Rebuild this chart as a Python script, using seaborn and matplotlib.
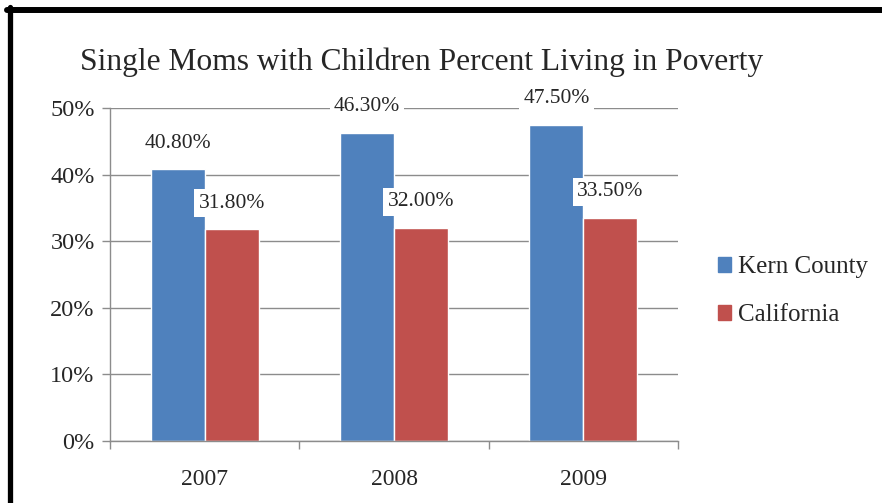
import matplotlib
matplotlib.use("Agg")
import matplotlib.pyplot as plt
import seaborn as sns
import pandas as pd
from matplotlib.lines import Line2D
from matplotlib.ticker import PercentFormatter

years = ["2007", "2008", "2009"]
kern = [0.408, 0.463, 0.475]
california = [0.318, 0.320, 0.335]
series = ["Kern County", "California"]
colors = ["#4F81BD", "#C0504D"]
title = "Single Moms with Children Percent Living in Poverty"

df = pd.DataFrame({
    "Year": years * 2,
    "Value": kern + california,
    "Series": [series[0]] * 3 + [series[1]] * 3,
})

sns.set_style("white")
plt.rcParams["font.family"] = ["Liberation Serif", "DejaVu Serif"]

fig = plt.figure(figsize=(8.82, 5.03), dpi=100)
ax = fig.add_axes([110 / 882, 1 - 441 / 503, (678 - 110) / 882, (441 - 108) / 503])

sns.barplot(data=df, x="Year", y="Value", hue="Series", palette=colors,
            width=0.57, gap=0, saturation=1, ax=ax, zorder=2, legend=True)

ax.set_ylim(0, 0.5)
ax.set_xlim(-0.5, 2.5)
ax.yaxis.set_major_formatter(PercentFormatter(1.0, decimals=0))
ax.set_yticks([0, 0.1, 0.2, 0.3, 0.4, 0.5])
ax.yaxis.grid(True, color="#8C8C8C", linewidth=1, zorder=0)
ax.set_axisbelow(True)
ax.set_xlabel("")
ax.set_ylabel("")
for s in ["top", "right"]:
    ax.spines[s].set_visible(False)
for s in ["left", "bottom"]:
    ax.spines[s].set_color("#8C8C8C")
    ax.spines[s].set_linewidth(1)
ax.tick_params(axis="y", which="major", length=6, color="#8C8C8C", width=1,
               labelsize=17.5, pad=5, left=True)
ax.tick_params(axis="x", which="major", length=0, labelsize=17, pad=20)
ax.set_xticks([-0.5, 0.5, 1.5, 2.5], minor=True)
ax.tick_params(axis="x", which="minor", length=6, color="#8C8C8C", width=1, bottom=True)

for cont in ax.containers:
    for bar in cont:
        h = bar.get_height()
        ax.annotate(f"{h * 100:.2f}%", (bar.get_x() + bar.get_width() / 2, h),
                    xytext=(0, 26), textcoords="offset pixels",
                    ha="center", va="center", fontsize=15.5, zorder=5,
                    bbox=dict(boxstyle="square,pad=0.2", fc="white", ec="none"))

handles = [plt.Rectangle((0, 0), 1, 1, color=c) for c in colors]
ax.legend(handles, series, loc="center left", bbox_to_anchor=(1.03, 0.45),
          frameon=False, fontsize=18, handlelength=0.55, handleheight=0.55,
          handletextpad=0.25, labelspacing=1.05)

fig.text(422 / 882, 1 - 62 / 503, title, ha="center", va="center", fontsize=22.7)

fig.add_artist(Line2D([9.5 / 882, 9.5 / 882], [0, 1 - 7 / 503], transform=fig.transFigure,
                      color="black", linewidth=3.8))
fig.add_artist(Line2D([7 / 882, 1], [1 - 10 / 503, 1 - 10 / 503], transform=fig.transFigure,
                      color="black", linewidth=4.3))

fig.savefig("out.png", dpi=100)
